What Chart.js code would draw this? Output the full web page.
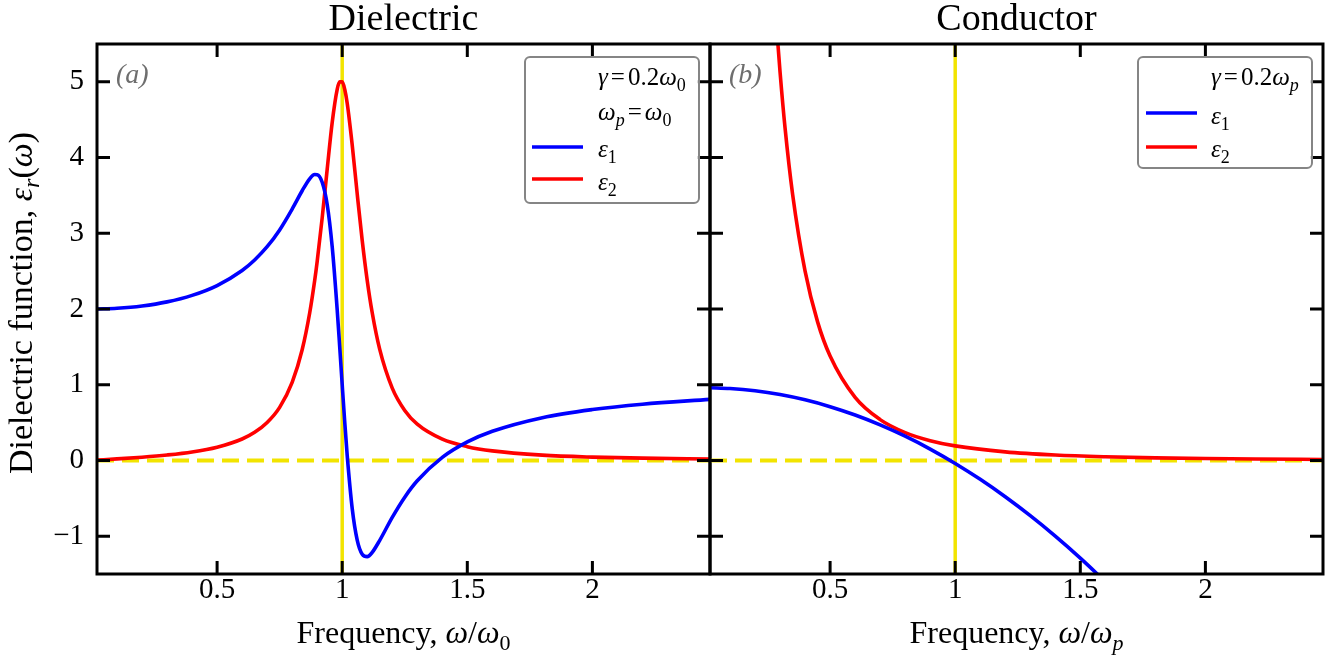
<!DOCTYPE html>
<html>
<head>
<meta charset="utf-8">
<script src="https://cdn.jsdelivr.net/npm/chart.js@4.4.0/dist/chart.umd.min.js"></script>
<style>
  html, body { margin: 0; padding: 0; background: #fff; }
  #wrap { position: relative; width: 1341px; height: 659px; }
  #dielChart { position: absolute; left: 0; top: 0; }
  #condChart { position: absolute; left: 700px; top: 0; }
</style>
</head>
<body>
<div id="wrap">
  <canvas id="dielChart" width="720" height="659"></canvas>
  <canvas id="condChart" width="641" height="659"></canvas>
</div>
<script>
// (a) dielectric, omega / omega_0
var freqDiel = [0.02, 0.1, 0.2, 0.3, 0.4, 0.5, 0.6, 0.65, 0.7, 0.75, 0.8, 0.84, 0.87, 0.89, 0.9, 0.92, 0.94, 0.96, 0.98, 0.99, 1.0,
                1.01, 1.02, 1.04, 1.06, 1.08, 1.1, 1.12, 1.15, 1.2, 1.25, 1.3, 1.4, 1.5, 1.6, 1.8, 2.0, 2.2, 2.47];
var eps1Diel = [2.000, 2.010, 2.040, 2.094, 2.180, 2.310, 2.509, 2.648, 2.823, 3.045, 3.320, 3.562, 3.720, 3.776, 3.774, 3.674, 3.381, 2.823, 1.990, 1.503, 1.000,
                0.512, 0.066, -0.635, -1.052, -1.238, -1.270, -1.214, -1.055, -0.752, -0.485, -0.269, 0.040, 0.244, 0.385, 0.565, 0.672, 0.743, 0.806];
var eps2Diel = [0.004, 0.020, 0.043, 0.072, 0.112, 0.175, 0.283, 0.371, 0.501, 0.701, 1.031, 1.462, 1.947, 2.376, 2.628, 3.203, 3.845, 4.464, 4.902, 5.000, 5.000,
                4.902, 4.717, 4.166, 3.520, 2.905, 2.378, 1.950, 1.466, 0.955, 0.660, 0.478, 0.280, 0.182, 0.126, 0.070, 0.044, 0.030, 0.019];

// (b) conductor, omega / omega_p
var freqCond1 = [0.02, 0.1, 0.2, 0.3, 0.4, 0.5, 0.6, 0.7, 0.8, 0.9, 1.0, 1.1, 1.2, 1.3, 1.4, 1.5, 1.6];
var eps1Cond  = [0.96, 0.95, 0.92, 0.87, 0.80, 0.71, 0.60, 0.47, 0.32, 0.15, -0.04, -0.25, -0.48, -0.73, -1.00, -1.29, -1.60];
var freqCond2 = [0.28, 0.29, 0.30, 0.32, 0.35, 0.4, 0.45, 0.5, 0.6, 0.7, 0.8, 0.9, 1.0, 1.2, 1.4, 1.6, 1.8, 2.0, 2.2, 2.47];
var eps2Cond  = [6.03, 5.56, 5.13, 4.39, 3.52, 2.50, 1.83, 1.379, 0.833, 0.539, 0.368, 0.261, 0.192, 0.113, 0.071, 0.048, 0.034, 0.025, 0.019, 0.013];

var xTicks = [0.5, 1, 1.5, 2];
var yTicks = [-1, 0, 1, 2, 3, 4, 5];
var xRange = [0.02, 2.47];
var yRange = [-1.5, 5.5];
var resonance = 1;

var FONT = '"Liberation Serif", "Times New Roman", serif';

function pts(xs, ys) {
  return xs.map(function (v, i) { return { x: v, y: ys[i] }; });
}

// text made of pieces: plain, italic, subscript
function drawRich(ctx, segs, x, y, size, align) {
  function font(s) {
    return (s.it ? 'italic ' : '') + Math.round(s.sub ? size * 0.7 : size) + 'px ' + FONT;
  }
  var w = 0;
  segs.forEach(function (s) {
    if (s.gap) { w += s.gap; return; }
    ctx.font = font(s);
    w += ctx.measureText(s.t).width;
  });
  var cx = align === 'center' ? x - w / 2 : x;
  ctx.textAlign = 'left';
  ctx.textBaseline = 'alphabetic';
  segs.forEach(function (s) {
    if (s.gap) { cx += s.gap; return; }
    ctx.font = font(s);
    ctx.fillText(s.t, cx, y + (s.sub ? size * 0.22 : 0));
    cx += ctx.measureText(s.t).width;
  });
}

var framePlugin = {
  id: 'frame',
  afterDatasetsDraw: function (chart) {
    var ctx = chart.ctx, a = chart.chartArea;
    var x = chart.scales.x, y = chart.scales.y;
    var L = 13;
    ctx.save();
    ctx.strokeStyle = '#000';
    ctx.lineWidth = 3;
    ctx.beginPath();
    xTicks.forEach(function (v) {
      var px = x.getPixelForValue(v);
      ctx.moveTo(px, a.bottom); ctx.lineTo(px, a.bottom - L);
      ctx.moveTo(px, a.top); ctx.lineTo(px, a.top + L);
    });
    yTicks.forEach(function (v) {
      var py = y.getPixelForValue(v);
      ctx.moveTo(a.left, py); ctx.lineTo(a.left + L, py);
      ctx.moveTo(a.right, py); ctx.lineTo(a.right - L, py);
    });
    ctx.stroke();
    ctx.strokeRect(a.left, a.top, a.right - a.left, a.bottom - a.top);
    ctx.restore();
  }
};

var labelPlugin = {
  id: 'labels',
  afterDraw: function (chart, args, o) {
    var ctx = chart.ctx, a = chart.chartArea;
    var mid = (a.left + a.right) / 2;
    ctx.save();
    ctx.fillStyle = '#000';
    drawRich(ctx, [{ t: o.title }], mid, 30, 38, 'center');
    drawRich(ctx, o.xlabel, mid, 643, 32, 'center');
    if (o.ylabel) {
      ctx.save();
      ctx.translate(32, (a.top + a.bottom) / 2 - 6);
      ctx.rotate(-Math.PI / 2);
      drawRich(ctx, o.ylabel, 0, 0, 34, 'center');
      ctx.restore();
    }
    ctx.fillStyle = '#6e6e6e';
    drawRich(ctx, [{ t: o.panel, it: 1 }], a.left + 19, 83, 28, 'left');

    // legend box
    var b = o.legend;
    ctx.fillStyle = 'rgba(255,255,255,0.85)';
    ctx.strokeStyle = '#858585';
    ctx.lineWidth = 2;
    ctx.beginPath();
    ctx.roundRect(b.x, b.y, b.w, b.h, 5);
    ctx.fill();
    ctx.stroke();
    ctx.fillStyle = '#000';
    b.rows.forEach(function (r) {
      if (r.color) {
        ctx.strokeStyle = r.color;
        ctx.lineWidth = 3.5;
        ctx.beginPath();
        ctx.moveTo(b.lineX, r.lineY);
        ctx.lineTo(b.lineX + 51, r.lineY);
        ctx.stroke();
      }
      drawRich(ctx, r.segs, b.textX, r.base, 25, 'left');
    });
    ctx.restore();
  }
};

function makeConfig(series, yAxisShown, pad, labels) {
  var datasets = [
    { data: [{ x: resonance, y: yRange[0] }, { x: resonance, y: yRange[1] }], borderColor: '#f2e400', borderWidth: 3.5, order: 5 },
    { data: [{ x: xRange[0], y: 0 }, { x: xRange[1], y: 0 }], borderColor: '#f2e400', borderWidth: 4, borderDash: [17, 8], order: 5 },
    { data: series[1], borderColor: '#ff0000', borderWidth: 3.6, order: 2 },
    { data: series[0], borderColor: '#0000ff', borderWidth: 3.6, order: 1 }
  ];
  datasets.forEach(function (d) {
    d.pointRadius = 0;
    d.fill = false;
    d.cubicInterpolationMode = 'monotone';
  });
  return {
    type: 'line',
    data: { datasets: datasets },
    options: {
      responsive: false,
      animation: false,
      events: [],
      layout: { padding: pad },
      scales: {
        x: {
          type: 'linear', min: xRange[0], max: xRange[1],
          afterBuildTicks: function (s) { s.ticks = xTicks.map(function (v) { return { value: v }; }); },
          afterFit: function (s) { s.height = 85; },
          grid: { display: false, drawTicks: false },
          border: { display: false },
          ticks: {
            autoSkip: false, maxRotation: 0, padding: 2, color: '#000',
            font: { family: FONT, size: 29, lineHeight: 1 },
            callback: function (v) { return '' + v; }
          }
        },
        y: {
          type: 'linear', min: yRange[0], max: yRange[1], display: yAxisShown,
          afterBuildTicks: function (s) { s.ticks = yTicks.map(function (v) { return { value: v }; }); },
          afterFit: function (s) { s.width = yAxisShown ? 97 : 0; },
          grid: { display: false, drawTicks: false },
          border: { display: false },
          ticks: {
            padding: 13, color: '#000', font: { family: FONT, size: 29 },
            callback: function (v) { return v < 0 ? '\u2212' + Math.abs(v) : '' + v; }
          }
        }
      },
      plugins: {
        legend: { display: false },
        tooltip: { enabled: false },
        labels: labels
      }
    },
    plugins: [framePlugin, labelPlugin]
  };
}

var eps1Segs = [{ t: '\u03b5', it: 1 }, { t: '1', sub: 1 }];
var eps2Segs = [{ t: '\u03b5', it: 1 }, { t: '2', sub: 1 }];

new Chart(document.getElementById('dielChart').getContext('2d'), makeConfig(
  [pts(freqDiel, eps1Diel), pts(freqDiel, eps2Diel)], true,
  { top: 44, right: 10, left: 0, bottom: 0 },
  {
    title: 'Dielectric',
    panel: '(a)',
    xlabel: [{ t: 'Frequency, ' }, { t: '\u03c9', it: 1 }, { t: '/' }, { t: '\u03c9', it: 1 }, { t: '0', sub: 1 }],
    ylabel: [{ t: 'Dielectric function, ' }, { t: '\u03b5', it: 1 }, { t: 'r', it: 1, sub: 1 }, { t: '(' }, { t: '\u03c9', it: 1 }, { t: ')' }],
    legend: {
      x: 525, y: 57, w: 174, h: 146, lineX: 532, textX: 598,
      rows: [
        { segs: [{ t: '\u03b3', it: 1 }, { gap: 3 }, { t: '=' }, { gap: 3 }, { t: '0.2' }, { t: '\u03c9', it: 1 }, { t: '0', sub: 1 }], base: 85 },
        { segs: [{ t: '\u03c9', it: 1 }, { t: 'p', it: 1, sub: 1 }, { gap: 3 }, { t: '=' }, { gap: 3 }, { t: '\u03c9', it: 1 }, { t: '0', sub: 1 }], base: 120 },
        { segs: eps1Segs, base: 157, color: '#0000ff', lineY: 147 },
        { segs: eps2Segs, base: 190, color: '#ff0000', lineY: 179 }
      ]
    }
  }
));

new Chart(document.getElementById('condChart').getContext('2d'), makeConfig(
  [pts(freqCond1, eps1Cond), pts(freqCond2, eps2Cond)], false,
  { top: 44, right: 18, left: 10, bottom: 0 },
  {
    title: 'Conductor',
    panel: '(b)',
    xlabel: [{ t: 'Frequency, ' }, { t: '\u03c9', it: 1 }, { t: '/' }, { t: '\u03c9', it: 1 }, { t: 'p', it: 1, sub: 1 }],
    legend: {
      x: 1138 - 700, y: 57, w: 174, h: 111, lineX: 1146 - 700, textX: 1211 - 700,
      rows: [
        { segs: [{ t: '\u03b3', it: 1 }, { gap: 3 }, { t: '=' }, { gap: 3 }, { t: '0.2' }, { t: '\u03c9', it: 1 }, { t: 'p', it: 1, sub: 1 }], base: 85 },
        { segs: eps1Segs, base: 124, color: '#0000ff', lineY: 113 },
        { segs: eps2Segs, base: 157, color: '#ff0000', lineY: 147 }
      ]
    }
  }
));
</script>
</body>
</html>
